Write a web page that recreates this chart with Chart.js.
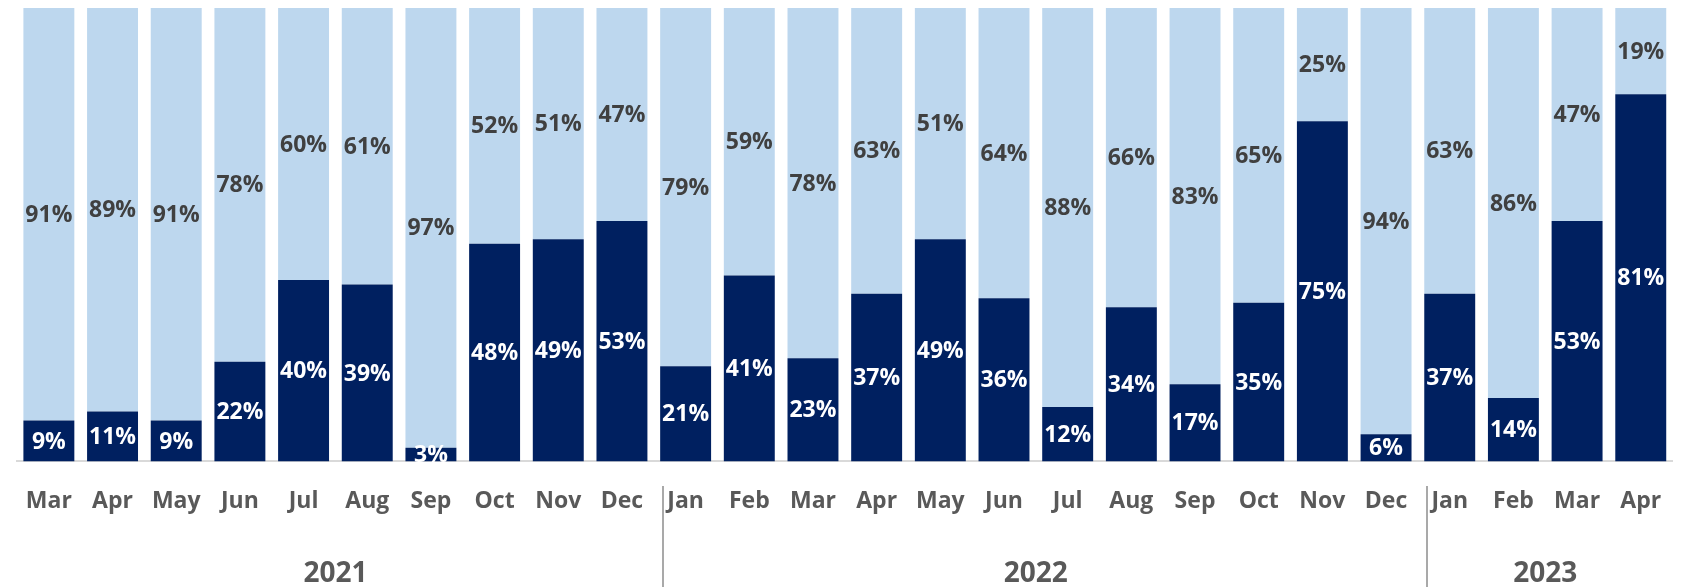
<!DOCTYPE html>
<html>
<head>
<meta charset="utf-8">
<script src="https://cdn.jsdelivr.net/npm/chart.js@4/dist/chart.umd.min.js"></script>
<style>
  html, body { margin: 0; padding: 0; background: #fff; }
  #wrap { width: 1687px; height: 587px; }
</style>
</head>
<body>
<div id="wrap"><canvas id="chart" width="1687" height="587"></canvas></div>
<script>
// month labels, one per bar
var months = ['Mar','Apr','May','Jun','Jul','Aug','Sep','Oct','Nov','Dec',
              'Jan','Feb','Mar','Apr','May','Jun','Jul','Aug','Sep','Oct','Nov','Dec',
              'Jan','Feb','Mar','Apr'];
// year groups: label, first index, last index
var years = ['2021', '2022', '2023'];
var yearStart = [0, 10, 22];
var yearEnd = [9, 21, 25];

// percent values
var darkVals = [9, 11, 9, 22, 40, 39, 3, 48, 49, 53,
                21, 41, 23, 37, 49, 36, 12, 34, 17, 35, 75, 6,
                37, 14, 53, 81];
var lightVals = [91, 89, 91, 78, 60, 61, 97, 52, 51, 47,
                 79, 59, 78, 63, 51, 64, 88, 66, 83, 65, 25, 94,
                 63, 86, 47, 19];

var DARK = '#002060';
var LIGHT = '#BDD7EE';
var FONT = '"Open Sans", "Liberation Sans", sans-serif';

// 100% stacked: scale each pair to its total, like the spreadsheet does
function share(vals, i) { return vals[i] / (darkVals[i] + lightVals[i]) * 100; }
var darkShare = darkVals.map(function (v, i) { return share(darkVals, i); });
var lightShare = lightVals.map(function (v, i) { return share(lightVals, i); });
var rawVals = [darkVals, lightVals];
var labelColors = ['#ffffff', '#404040'];

var barLabels = {
    id: 'barLabels',
    afterDatasetsDraw: function (chart) {
        var ctx = chart.ctx;
        ctx.save();
        ctx.font = 'bold 23px ' + FONT;
        ctx.textAlign = 'center';
        ctx.textBaseline = 'middle';
        chart.data.datasets.forEach(function (ds, di) {
            var meta = chart.getDatasetMeta(di);
            ctx.fillStyle = labelColors[di];
            meta.data.forEach(function (bar, i) {
                var cy = (bar.y + bar.base) / 2;
                ctx.fillText(rawVals[di][i] + '%', bar.x, cy + 1);
            });
        });
        ctx.restore();
    }
};

var yearRow = {
    id: 'yearRow',
    afterDraw: function (chart) {
        var ctx = chart.ctx;
        var xs = chart.scales.x;
        var meta = chart.getDatasetMeta(0);
        ctx.save();
        // separators at the left edge of each new year
        ctx.strokeStyle = '#8c8c8c';
        ctx.lineWidth = 1.5;
        yearStart.forEach(function (s) {
            if (s === 0) return;
            var b = meta.data[s];
            var x = Math.round(b.x - b.width / 2) + 3;
            ctx.beginPath();
            ctx.moveTo(x, 486);
            ctx.lineTo(x, 587);
            ctx.stroke();
        });
        ctx.fillStyle = '#595959';
        ctx.font = 'bold 28px ' + FONT;
        ctx.textAlign = 'center';
        ctx.textBaseline = 'middle';
        years.forEach(function (y, k) {
            var cx = (xs.getPixelForValue(yearStart[k]) + xs.getPixelForValue(yearEnd[k])) / 2;
            ctx.fillText(y, cx, 574);
        });
        ctx.restore();
    }
};

new Chart(document.getElementById('chart'), {
    type: 'bar',
    data: {
        labels: months,
        datasets: [
            { data: darkShare, backgroundColor: DARK, borderWidth: 0, barPercentage: 0.8, categoryPercentage: 1 },
            { data: lightShare, backgroundColor: LIGHT, borderWidth: 0, barPercentage: 0.8, categoryPercentage: 1 }
        ]
    },
    options: {
        responsive: false,
        animation: false,
        devicePixelRatio: 1,
        layout: { padding: { left: 4, right: 3, top: 8, bottom: 46 } },
        plugins: { legend: { display: false }, tooltip: { enabled: false } },
        scales: {
            x: {
                stacked: true,
                grid: { display: false, drawTicks: false },
                border: { display: true, color: '#D9D9D9', width: 2 },
                ticks: { color: '#595959', font: { family: FONT, size: 23, weight: 'bold' }, padding: 26, maxRotation: 0, autoSkip: false }
            },
            y: { stacked: true, display: false, min: 0, max: 100 }
        }
    },
    plugins: [barLabels, yearRow]
});
</script>
</body>
</html>
